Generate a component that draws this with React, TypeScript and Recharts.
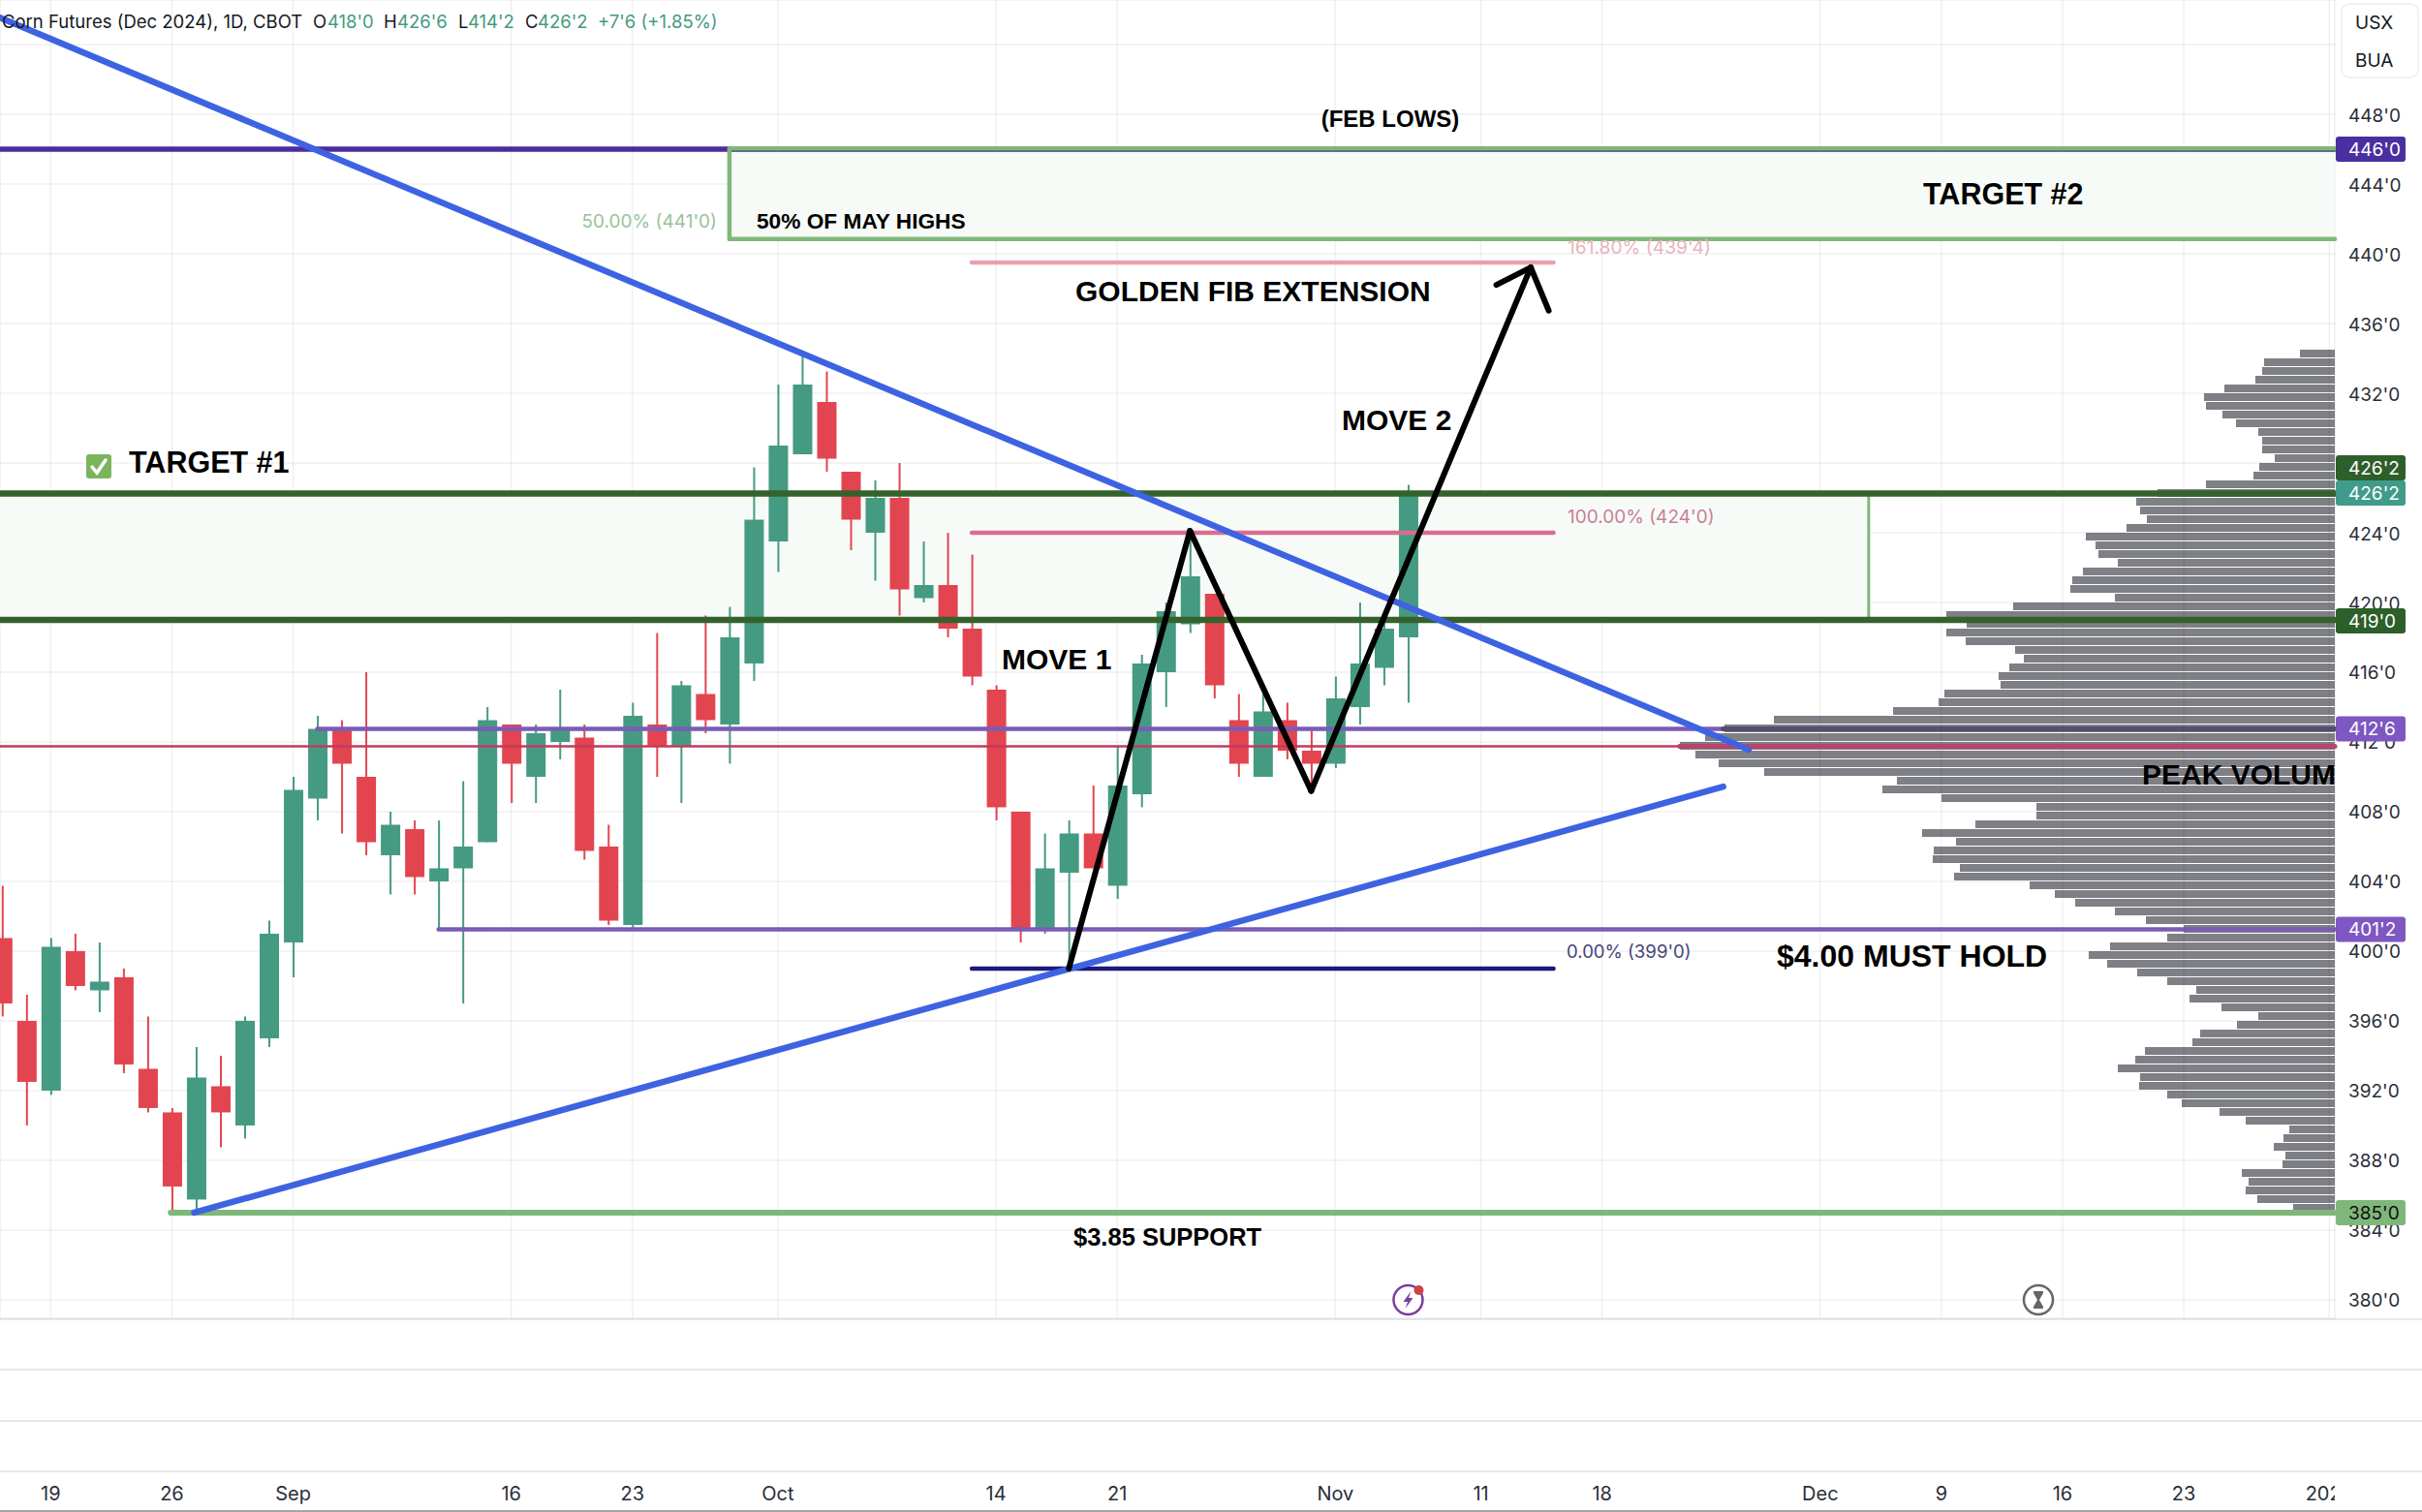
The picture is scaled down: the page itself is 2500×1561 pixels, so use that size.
import {
  Bar,
  BarChart,
  CartesianGrid,
  ComposedChart,
  ReferenceArea,
  ReferenceDot,
  ReferenceLine,
  XAxis,
  YAxis,
} from 'recharts';

const WIDTH = 2500;
const HEIGHT = 1561;
const PANE_BOTTOM = 200;
const SCALE_WIDTH = 90;

const PRICE_DOMAIN = [378.94, 454.56];
const SLOT_DOMAIN = [-0.092, 96.23];

const OPEN = [
  400.75, 396, 392, 400, 397.75, 398.5, 393.25, 390.75, 385.75, 392.25, 390, 395, 400.5, 408.75, 412.75,
  410, 405.5, 407, 404, 404.75, 406.25, 413, 410, 412, 412.25, 406, 401.5, 413, 411.75, 414.75,
  413, 416.5, 423.5, 428.5, 431.5, 427.5, 424, 426, 420.25, 421, 418.5, 415, 408, 401.25, 404.5,
  406.75, 403.75, 409, 416, 418.75, 420.5, 413.25, 410, 413.25, 411.5, 410.75, 414, 416.25, 418,
];
const HIGH = [
  403.75, 397.5, 400.75, 401, 400.5, 399, 396.25, 391, 394.5, 394, 396.25, 401.75, 410, 413.5, 413.25,
  416, 408, 407.5, 407.5, 409.75, 414, 413, 413, 415, 413, 407.25, 414.25, 418.25, 415.5, 419.25,
  419.75, 427.75, 432.5, 434.25, 433.25, 427.5, 427, 428, 423.5, 424, 422.75, 415.25, 408, 406.75, 407.5,
  409.5, 411.75, 417, 420, 424, 420.5, 414.75, 414.75, 414.25, 412.75, 415.75, 420, 419.25, 426.75,
];
const LOW = [
  396.25, 390, 391.75, 397.75, 396.5, 393, 390.75, 385, 385, 388.75, 389.25, 394.5, 398.5, 407.5, 406.75,
  405.5, 403.25, 403.25, 401.25, 397, 406.25, 408.5, 408.5, 411, 405.25, 401.5, 401.25, 410, 408.5, 412.5,
  410.75, 415.5, 421.75, 428.5, 427.5, 423, 421.25, 419.25, 420, 418, 415.25, 407.5, 400.5, 401, 399,
  404.75, 403, 408.25, 414, 418.25, 414.5, 410, 410, 411, 409.25, 410.5, 413, 415.25, 414.25,
];
const CLOSE = [
  397, 392.5, 400.25, 398, 398.25, 393.5, 391, 386.5, 392.75, 390.75, 396, 401, 409.25, 412.75, 410.75,
  406.25, 407.25, 404.25, 404.75, 406, 413.25, 410.75, 412.5, 412.75, 405.75, 401.75, 413.5, 411.75, 415.25, 413.25,
  418, 424.75, 429, 432.5, 428.25, 424.75, 426, 420.75, 421, 418.5, 415.75, 408.25, 401.25, 404.75, 406.75,
  404.75, 409.5, 416.5, 419.5, 421.5, 415.25, 410.75, 413.75, 411.5, 410.75, 414.5, 416.5, 418.5, 426.25,
];

const PRICE_TICKS = [380, 384, 388, 392, 396, 400, 404, 408, 412, 416, 420, 424, 428, 432, 436, 440, 444, 448, 452];
// these two sit under the price badge and the currency box, so they carry no label
const HIDDEN_PRICE_LABELS = [428, 452];
const DATE_TICKS = [2, 7, 12, 21, 26, 32, 41, 46, 55, 61, 66, 75, 80, 85, 90, 96];
const DATE_LABELS = ['19', '26', 'Sep', '16', '23', 'Oct', '14', '21', 'Nov', '11', '18', 'Dec', '9', '16', '23', '2025'];

const PROFILE_PRICES = [
  434.25, 433.75, 433.25, 432.75, 432.25, 431.75, 431.25, 430.75, 430.25, 429.75, 429.25, 428.75, 428.25, 427.75, 427.25,
  426.75, 426.25, 425.75, 425.25, 424.75, 424.25, 423.75, 423.25, 422.75, 422.25, 421.75, 421.25, 420.75, 420.25, 419.75,
  419.25, 418.75, 418.25, 417.75, 417.25, 416.75, 416.25, 415.75, 415.25, 414.75, 414.25, 413.75, 413.25, 412.75, 412.25,
  411.75, 411.25, 410.75, 410.25, 409.75, 409.25, 408.75, 408.25, 407.75, 407.25, 406.75, 406.25, 405.75, 405.25, 404.75,
  404.25, 403.75, 403.25, 402.75, 402.25, 401.75, 401.25, 400.75, 400.25, 399.75, 399.25, 398.75, 398.25, 397.75, 397.25,
  396.75, 396.25, 395.75, 395.25, 394.75, 394.25, 393.75, 393.25, 392.75, 392.25, 391.75, 391.25, 390.75, 390.25, 389.75,
  389.25, 388.75, 388.25, 387.75, 387.25, 386.75, 386.25, 385.75, 385.25,
];
const PROFILE_VOLUME = [
  36, 73, 75, 82, 114, 135, 133, 116, 102, 79, 75, 75, 62, 78, 84,
  133, 183, 205, 201, 194, 215, 257, 247, 244, 224, 260, 271, 273, 227, 332,
  401, 380, 401, 381, 330, 321, 336, 347, 345, 403, 409, 456, 579, 630, 650,
  676, 660, 636, 589, 452, 467, 406, 308, 308, 371, 426, 391, 414, 415, 387,
  393, 315, 289, 268, 227, 195, 156, 173, 232, 254, 235, 204, 173, 143, 150,
  117, 79, 101, 139, 147, 196, 206, 224, 201, 202, 173, 158, 119, 92, 47,
  53, 63, 51, 54, 96, 89, 92, 80, 43,
];

// drawing tools on the chart, as [slot, price]
const FALLING_TREND = [[-0.092, 453.55], [72.05, 411.56]];
const RISING_TREND = [[7.92, 385], [71, 409.44]];
const MOVE_PATH = [[44, 399], [49, 424.11], [54, 409.19], [63.06, 439.22]];
const ARROW_LEFT = [[61.64, 438.22], [63.06, 439.22]];
const ARROW_RIGHT = [[63.8, 436.74], [63.06, 439.22]];

const candles = OPEN.map((open, i) => ({
  slot: i,
  open,
  high: HIGH[i],
  low: LOW[i],
  close: CLOSE[i],
}));
const profile = PROFILE_PRICES.map((price, i) => ({ price, volume: PROFILE_VOLUME[i] }));

const UP = '#459a82';
const DOWN = '#e2454f';
const ZONE = '#f7fbf8';
const SOFT_GREEN = '#7fb77a';
const DARK_GREEN = '#35622c';
const BLUE = '#3e63e2';
const PURPLE = '#7a5cb5';

function Candle(props: any) {
  const { x, y, width, height, payload } = props;
  const perCent = height / (payload.high - payload.low);
  const top = y + (payload.high - Math.max(payload.open, payload.close)) * perCent;
  const bottom = y + (payload.high - Math.min(payload.open, payload.close)) * perCent;
  const color = payload.close >= payload.open ? UP : DOWN;
  return (
    <g>
      <line x1={x + width / 2} x2={x + width / 2} y1={y} y2={y + height} stroke={color} strokeWidth={2} />
      <rect x={x} y={top} width={width} height={Math.max(bottom - top, 1)} fill={color} />
    </g>
  );
}

function DateTick(props: any) {
  const { x, y, index } = props;
  return (
    <text
      x={x}
      y={y + 173}
      textAnchor="middle"
      dominantBaseline="central"
      fontFamily="Inter"
      fontSize={20}
      fill="#2a2e39"
      clipPath="url(#date-clip)"
    >
      {DATE_LABELS[index]}
    </text>
  );
}

function PriceTick(props: any) {
  const { y, payload } = props;
  if (HIDDEN_PRICE_LABELS.includes(payload.value)) return null;
  return (
    <text x={2424} y={y + 1} dominantBaseline="central" fontFamily="Inter" fontSize={19} fill="#2a2e39">
      {`${payload.value}'0`}
    </text>
  );
}

function EarningsIcon(props: any) {
  const { cx, cy } = props;
  return (
    <g transform={`translate(${cx},${cy})`}>
      <circle r={15} fill="#fff" stroke="#7b3fa0" strokeWidth={2.5} />
      <path d="M3 -9 L-5 2 L-0.5 2 L-3 9 L5 -2 L0.5 -2 Z" fill="#7b3fa0" />
      <circle cx={11} cy={-10} r={5} fill="#cf4343" />
    </g>
  );
}

function HourglassIcon(props: any) {
  const { cx, cy } = props;
  return (
    <g transform={`translate(${cx},${cy})`}>
      <circle r={15} fill="#fff" stroke="#666" strokeWidth={2.5} />
      <path d="M-5 -9 H5 V-7 L1 0 L5 7 V9 H-5 V7 L-1 0 L-5 -7 Z" fill="#666" />
    </g>
  );
}

function segment(points: number[][], stroke: string, width: number) {
  return (
    <ReferenceLine
      segment={[
        { x: points[0][0], y: points[0][1] },
        { x: points[1][0], y: points[1][1] },
      ]}
      stroke={stroke}
      strokeWidth={width}
      strokeLinecap="round"
    />
  );
}

function Note({ x, y, size = 30.5, fill = '#000', anchor = 'start', weight = 700, family = 'Liberation Sans', children }: any) {
  return (
    <text x={x} y={y} fontSize={size} fill={fill} textAnchor={anchor} fontWeight={weight} fontFamily={family} dominantBaseline="central">
      {children}
    </text>
  );
}

function Badge({ y, fill, color = '#fff', children }: any) {
  return (
    <g>
      <rect x={2411} y={y - 13} width={72} height={26} rx={3} fill={fill} />
      <text x={2424} y={y} fontSize={19} fill={color} fontFamily="Inter" dominantBaseline="central">
        {children}
      </text>
    </g>
  );
}

const layer = { position: 'absolute', left: 0, top: 0 } as const;

export default function App() {
  return (
    <div style={{ ...layer, width: WIDTH, height: HEIGHT, background: '#fff', overflow: 'hidden' }}>
      {/* volume profile sits under everything else */}
      <div style={layer}>
        <BarChart
          width={WIDTH}
          height={HEIGHT}
          data={profile}
          layout="vertical"
          margin={{ top: 0, right: SCALE_WIDTH, bottom: PANE_BOTTOM, left: 0 }}
        >
          <XAxis type="number" domain={[0, 2410]} reversed hide />
          <YAxis type="number" dataKey="price" domain={PRICE_DOMAIN} allowDataOverflow reversed hide />
          <Bar dataKey="volume" fill="#7f8086" barSize={8} isAnimationActive={false} />
        </BarChart>
      </div>

      {[1361, 1413, 1466, 1518].map((top) => (
        <div key={top} style={{ ...layer, top, width: WIDTH, height: 2, background: '#e8e8e8' }} />
      ))}
      <div style={{ ...layer, top: 1559, width: WIDTH, height: 2, background: '#a5a5a5' }} />

      <div style={layer}>
        <ComposedChart
          width={WIDTH}
          height={HEIGHT}
          data={candles}
          margin={{ top: 0, right: 0, bottom: 0, left: 0 }}
        >
          <defs>
            <clipPath id="date-clip">
              <rect x={0} y={1361} width={2410} height={200} />
            </clipPath>
          </defs>
          <CartesianGrid stroke="#000" strokeOpacity={0.06} strokeWidth={1.5} />
          <XAxis
            type="number"
            dataKey="slot"
            domain={SLOT_DOMAIN}
            allowDataOverflow
            ticks={DATE_TICKS}
            interval={0}
            height={PANE_BOTTOM}
            axisLine={false}
            tickLine={false}
            tick={<DateTick />}
          />
          <YAxis
            type="number"
            orientation="right"
            domain={PRICE_DOMAIN}
            allowDataOverflow
            ticks={PRICE_TICKS}
            interval={0}
            width={SCALE_WIDTH}
            axisLine={false}
            tickLine={false}
            tick={<PriceTick />}
          />

          <ReferenceArea x1={SLOT_DOMAIN[0]} x2={77} y1={419} y2={426.25} fill={ZONE} fillOpacity={1} stroke="none" />
          <ReferenceArea x1={30} x2={SLOT_DOMAIN[1]} y1={440.85} y2={446} fill={ZONE} fillOpacity={1} stroke="none" />

          <Bar
            dataKey={(d: any) => [d.low, d.high]}
            barSize={20}
            shape={<Candle />}
            isAnimationActive={false}
          />

          {segment([[SLOT_DOMAIN[0], 446], [30, 446]], '#4b2d9f', 5.5)}
          {segment([[30, 445.9], [SLOT_DOMAIN[1], 445.9]], '#3a3a7a', 2)}
          {segment([[30, 446.05], [SLOT_DOMAIN[1], 446.05]], SOFT_GREEN, 4.5)}
          {segment([[30, 440.85], [SLOT_DOMAIN[1], 440.85]], SOFT_GREEN, 4.5)}
          {segment([[30, 440.85], [30, 446]], SOFT_GREEN, 4.5)}
          {segment([[77, 419], [77, 426.25]], SOFT_GREEN, 3)}

          {segment([[SLOT_DOMAIN[0], 411.75], [SLOT_DOMAIN[1], 411.75]], '#c23a5c', 2.5)}
          {segment([[69.2, 411.75], [SLOT_DOMAIN[1], 411.75]], '#b8436b', 5)}
          {segment([[13, 412.75], [SLOT_DOMAIN[1], 412.75]], PURPLE, 4.5)}
          {segment([[71, 412.75], [SLOT_DOMAIN[1], 412.75]], '#524f6f', 5)}
          {segment([[18, 401.25], [SLOT_DOMAIN[1], 401.25]], PURPLE, 4.5)}
          {segment([[6.95, 385], [SLOT_DOMAIN[1], 385]], SOFT_GREEN, 6)}

          {segment([[SLOT_DOMAIN[0], 426.25], [SLOT_DOMAIN[1], 426.25]], DARK_GREEN, 6.5)}
          {segment([[SLOT_DOMAIN[0], 419], [SLOT_DOMAIN[1], 419]], DARK_GREEN, 6.5)}

          {segment([[40, 439.5], [64, 439.5]], '#e9a0ac', 4.5)}
          {segment([[40, 424], [64, 424]], '#d96c92', 4.5)}
          {segment([[40, 399], [64, 399]], '#1c1a7a', 4.5)}

          {segment(FALLING_TREND, BLUE, 6.5)}
          {segment(RISING_TREND, BLUE, 6.5)}

          {segment([MOVE_PATH[0], MOVE_PATH[1]], '#000', 6)}
          {segment([MOVE_PATH[1], MOVE_PATH[2]], '#000', 6)}
          {segment([MOVE_PATH[2], MOVE_PATH[3]], '#000', 6)}
          {segment(ARROW_LEFT, '#000', 6)}
          {segment(ARROW_RIGHT, '#000', 6)}

          <ReferenceDot x={58} y={380} shape={<EarningsIcon />} />
          <ReferenceDot x={84} y={380} shape={<HourglassIcon />} />
        </ComposedChart>
      </div>

      <svg width={WIDTH} height={HEIGHT} style={{ ...layer, pointerEvents: 'none' }}>
        <text y={22} fontSize={18.5} fontFamily="Inter" dominantBaseline="central" fill="#131722">
          <tspan x={2}>Corn Futures (Dec 2024), 1D, CBOT</tspan>
          <tspan x={323}>O</tspan>
          <tspan x={338} fill={UP}>418'0</tspan>
          <tspan x={396}>H</tspan>
          <tspan x={410} fill={UP}>426'6</tspan>
          <tspan x={473}>L</tspan>
          <tspan x={483} fill={UP}>414'2</tspan>
          <tspan x={542}>C</tspan>
          <tspan x={555} fill={UP}>426'2</tspan>
          <tspan x={617} fill={UP}>+7'6 (+1.85%)</tspan>
        </text>

        <rect x={2417} y={4} width={79} height={76} rx={8} fill="#fff" stroke="#eeeeee" strokeWidth={1.5} />
        <Note x={2431} y={23} size={19} weight={400} family="Inter" fill="#131722">USX</Note>
        <Note x={2431} y={62} size={19} weight={400} family="Inter" fill="#131722">BUA</Note>

        <Badge y={154} fill="#4a2fa0">446'0</Badge>
        <Badge y={483} fill="#2d5f2a">426'2</Badge>
        <Badge y={509} fill="#3f9c8a">426'2</Badge>
        <Badge y={641} fill="#2d5f2a">419'0</Badge>
        <Badge y={752.5} fill="#7e57c2">412'6</Badge>
        <Badge y={959.5} fill="#7e57c2">401'2</Badge>
        <Badge y={1252} fill={SOFT_GREEN} color="#111">385'0</Badge>

        <Note x={1435} y={122} size={24} anchor="middle">(FEB LOWS)</Note>
        <Note x={1985} y={200}>TARGET #2</Note>
        <Note x={781} y={228} size={22.7}>50% OF MAY HIGHS</Note>
        <Note x={1110} y={300} size={30}>GOLDEN FIB EXTENSION</Note>
        <Note x={133} y={477}>TARGET #1</Note>
        <Note x={1034} y={680} size={30}>MOVE 1</Note>
        <Note x={1385} y={433} size={30}>MOVE 2</Note>
        <Note x={2211} y={799} size={30}>PEAK VOLUM</Note>
        <Note x={1834} y={987} size={32}>$4.00 MUST HOLD</Note>
        <Note x={1108} y={1277} size={25.5}>$3.85 SUPPORT</Note>

        <Note x={740} y={228} size={19} weight={400} family="Inter" anchor="end" fill="#9ac29a">50.00% (441'0)</Note>
        <Note x={1618} y={255} size={19.2} weight={400} family="Inter" fill="#eab4bc">161.80% (439'4)</Note>
        <Note x={1618} y={533} size={19} weight={400} family="Inter" fill="#c97f98">100.00% (424'0)</Note>
        <Note x={1617} y={982} size={18.6} weight={400} family="Inter" fill="#45457a">0.00% (399'0)</Note>

        <rect x={89} y={469} width={26} height={25} rx={3} fill="#7ab55c" />
        <path d="M95 482 L100 488 L109 475" fill="none" stroke="#fff" strokeWidth={3.5} strokeLinecap="round" />
      </svg>
    </div>
  );
}
